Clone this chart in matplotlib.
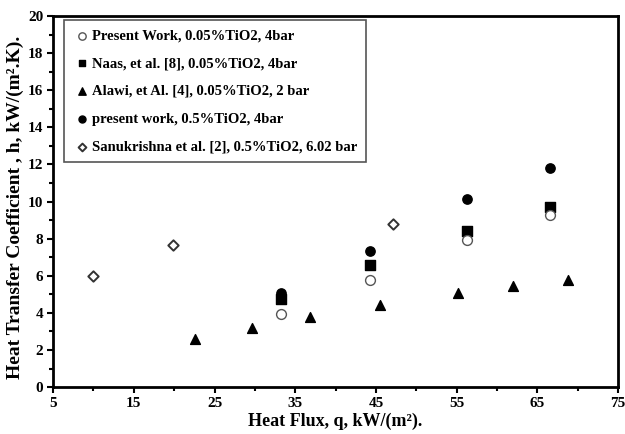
import matplotlib
matplotlib.use("Agg")
import matplotlib.pyplot as plt
from matplotlib.ticker import MultipleLocator

# values
q_present_005 = [33.2, 44.2, 56.3, 66.6]
h_present_005 = [3.95, 5.8, 7.95, 9.3]

q_naas = [33.2, 44.2, 56.3, 66.6]
h_naas = [4.75, 6.6, 8.42, 9.72]

q_alawi = [22.6, 29.6, 36.8, 45.5, 55.2, 62.0, 68.8]
h_alawi = [2.6, 3.2, 3.8, 4.4, 5.05, 5.45, 5.78]

q_present_05 = [33.2, 44.2, 56.3, 66.6]
h_present_05 = [5.07, 7.34, 10.15, 11.8]

q_sanu = [10.0, 19.9, 47.1]
h_sanu = [6.0, 7.68, 8.8]

labels = ["Present Work, 0.05%TiO2, 4bar",
          "Naas, et al. [8], 0.05%TiO2, 4bar",
          "Alawi, et Al. [4], 0.05%TiO2, 2 bar",
          "present work, 0.5%TiO2, 4bar",
          "Sanukrishna et al. [2], 0.5%TiO2, 6.02 bar"]

x_major = [5, 15, 25, 35, 45, 55, 65, 75]
x_minor = [10, 20, 30, 40, 50, 60, 70]

plt.rcParams["font.family"] = "Liberation Serif"
plt.rcParams["font.weight"] = "bold"

fig = plt.figure(figsize=(6.25, 4.34), dpi=100)
ax = fig.add_axes([0.085, 0.108, 0.904, 0.855])

ax.scatter(q_present_05, h_present_05, marker="o", s=45, c="black", label=labels[3], zorder=3)
ax.scatter(q_naas, h_naas, marker="s", s=42, c="black", label=labels[1], zorder=3)
ax.scatter(q_present_005, h_present_005, marker="o", s=50, facecolors="white",
           edgecolors="#555555", linewidths=1.0, label=labels[0], zorder=4)
ax.scatter(q_alawi, h_alawi, marker="^", s=50, c="black", label=labels[2], zorder=3)
ax.scatter(q_sanu, h_sanu, marker="D", s=28, facecolors="white",
           edgecolors="#333333", linewidths=1.4, label=labels[4], zorder=3)

ax.set_xlim(5, 75)
ax.set_ylim(0, 20)
ax.set_xticks(x_major)
ax.set_xticks(x_minor, minor=True)
ax.yaxis.set_major_locator(MultipleLocator(2))
ax.yaxis.set_minor_locator(MultipleLocator(1))
ax.tick_params(which="major", direction="out", length=4, width=1.5, labelsize=11, pad=3)
ax.tick_params(which="minor", direction="out", length=3, width=1.5)
for lab in ax.get_xticklabels() + ax.get_yticklabels():
    lab.set_fontweight("bold")
for sp in ax.spines.values():
    sp.set_linewidth(2)

ax.set_xlabel("Heat Flux, q, kW/(m²).", fontsize=13, fontweight="bold", labelpad=2)
ax.set_ylabel("Heat Transfer Coefficient , h, kW/(m².K).", fontsize=14,
              fontweight="bold")
ax.yaxis.set_label_coords(-0.051, 0.485)

# legend order as in the reference
handles, labs = ax.get_legend_handles_labels()
order = [labs.index(l) for l in labels]
leg = ax.legend([handles[i] for i in order], [labs[i] for i in order],
                loc="upper left", bbox_to_anchor=(0.012, 1.0), borderaxespad=0.3,
                fontsize=10.5, fancybox=False, edgecolor="#555555", framealpha=1,
                markerscale=0.75, handletextpad=0.1, handlelength=1.2,
                labelspacing=1.0, borderpad=0.6)
leg.get_frame().set_linewidth(1.2)

fig.savefig("out.png", dpi=100)
